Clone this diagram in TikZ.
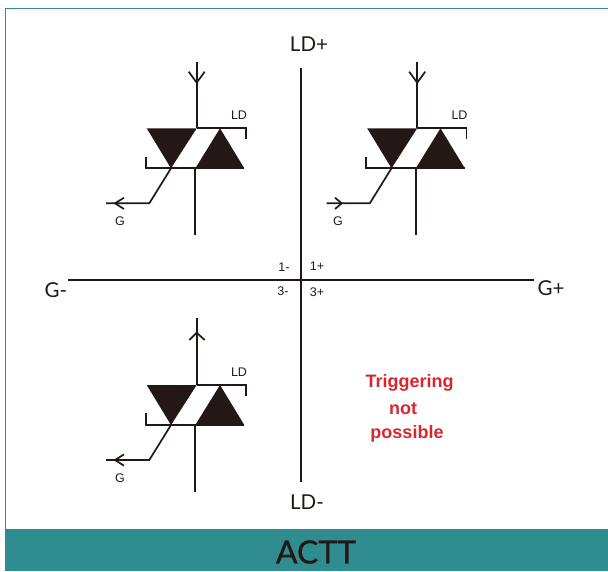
\documentclass[tikz,border=0pt]{standalone}
\usepackage{fontspec}
\setmainfont{Liberation Sans}
\newfontfamily\titlefont{Lato}
\newfontfamily\headfont[FakeBold=0.7]{Lato}
\usepackage{xcolor}
\definecolor{banner}{HTML}{2F8C8F}
\definecolor{ink}{HTML}{231815}
\definecolor{alert}{HTML}{D7262E}
\tikzset{
  wire/.style={ink, line width=1.7pt},
  axis/.style={ink, line width=2pt},
  big/.style={font=\titlefont\fontsize{20.5}{21}\selectfont, text=ink, inner sep=0pt},
  small/.style={font=\fontsize{12.5}{13}\selectfont, text=ink, inner sep=0pt},
  note/.style={font=\bfseries\fontsize{18}{18}\selectfont, text=alert, inner sep=0pt},
}

\begin{document}
\begin{tikzpicture}[x=1pt, y=-1pt]
  \useasboundingbox (0,0) rectangle (608,571);
  % Frame and banner
  \draw[banner, line width=0.8pt] (5,537) -- (5,8) -- (608,8);
  \fill[banner] (5,529) rectangle (608,571);
  \node[font=\headfont\fontsize{32}{32}\selectfont, text=ink, inner sep=0pt] (title) at (316,552) {ACTT};
  % Axes
  \coordinate (top) at (301,68);
  \coordinate (bot) at (301,482);
  \coordinate (lft) at (68,280);
  \coordinate (rgt) at (534,280);
  \draw[axis] (top) -- (bot);
  \draw[axis] (lft) -- (rgt);
  % Axis labels
  \node[big] (ldp) at (309,44) {LD+};
  \node[big] (ldm) at (307,502) {LD-};
  \node[big] (gm) at (56,290) {G-};
  \node[big] (gp) at (551,288) {G+};
  % Quadrant labels
  \foreach \x/\y/\l in {284/267/1-, 317/266/1+, 283/291/3-, 317/292/3+} {
    \node[small] (q\l) at (\x,\y) {\l};
  }
  % Triacs
  \foreach \n/\dx/\dy/\gx in {a/0/0/120, b/220.5/0/117.5, c/0/256.7/120} {
    \begin{scope}[shift={(\dx,\dy)}]
      \fill[ink] (146.7,128.3) -- (196.7,128.3) -- (171,168.3) -- cycle;
      \fill[ink] (220,128.3) -- (244.3,168.3) -- (195.3,168.3) -- cycle;
      \draw[wire] (196.7,128.3) -- (246,128.3) -- (246,139.3);
      \draw[wire] (145.7,156.7) -- (145.7,168.3) -- (244,168.3);
      \draw[wire] (195.3,168.3) -- (195.3,235);
      \draw[wire] (171,168.3) -- (149.3,203.3) -- (106,203.3);
      \node[small] (ld\n) at (239,115) {LD};
      \node[small] (g\n) at (\gx,221) {G};
    \end{scope}
  }
  % Main terminal (down, down, up)
  \draw[wire] (196.7,61.7) -- (196.7,128.3);
  \draw[wire] (188.7,71.7) -- (196.7,82.7) -- (204.7,71.7);
  \draw[wire] (417.2,61.7) -- (417.2,128.3);
  \draw[wire] (409.2,71.7) -- (417.2,82.7) -- (425.2,71.7);
  \draw[wire] (196.7,318.3) -- (196.7,385);
  \draw[wire] (189.3,340) -- (196.7,332.7) -- (204.7,340);
  % Gate arrows
  \draw[wire] (124,197.7) -- (115,203.3) -- (124,209);
  \draw[wire] (335,197.7) -- (341.7,203.3) -- (335,209);
  \draw[wire] (124,454.4) -- (115,460) -- (124,465.7);
  % Note
  \node[note] (t1) at (409.5,382.5) {Triggering};
  \node[note] (t2) at (403,408.5) {not};
  \node[note] (t3) at (407,433.5) {possible};
\end{tikzpicture}
\end{document}
